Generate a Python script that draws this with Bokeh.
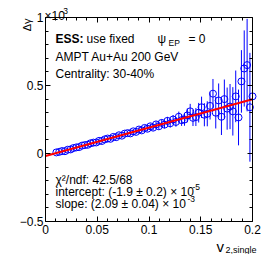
import math
from bokeh.plotting import figure
from bokeh.models import Range1d, FixedTicker, LinearAxis, Label
from bokeh.embed import file_html
from bokeh.resources import INLINE

# ---- data (delta gamma in units of 1e-3) ----
v2_single = [0.0105, 0.0133, 0.0160, 0.0188, 0.0215, 0.0243, 0.0270, 0.0298, 0.0325, 0.0353,
             0.0380, 0.0408, 0.0435, 0.0463, 0.0490, 0.0518, 0.0545, 0.0573, 0.0600, 0.0628,
             0.0655, 0.0683, 0.0710, 0.0738, 0.0765, 0.0793, 0.0820, 0.0848, 0.0875, 0.0903,
             0.0930, 0.0958, 0.0985, 0.1013, 0.1040, 0.1068, 0.1095, 0.1123, 0.1150, 0.1178,
             0.1205, 0.1233, 0.1260, 0.1288, 0.1315, 0.1343, 0.1370, 0.1398, 0.1425, 0.1453,
             0.1480, 0.1508, 0.1535, 0.1563, 0.1590, 0.1618, 0.1645, 0.1673, 0.1700, 0.1728,
             0.1755, 0.1783, 0.1810, 0.1838, 0.1865, 0.1893, 0.1920, 0.1948, 0.1975, 0.2000]
delta_gamma = [0.008, 0.012, 0.018, 0.017, 0.028, 0.030, 0.040, 0.045, 0.047, 0.058,
               0.062, 0.064, 0.075, 0.080, 0.081, 0.093, 0.092, 0.104, 0.110, 0.108,
               0.122, 0.120, 0.134, 0.131, 0.146, 0.150, 0.148, 0.163, 0.159, 0.176,
               0.170, 0.188, 0.182, 0.200, 0.190, 0.214, 0.200, 0.225, 0.212, 0.240,
               0.222, 0.250, 0.232, 0.270, 0.245, 0.250, 0.280, 0.310, 0.262, 0.268,
               0.300, 0.340, 0.285, 0.292, 0.350, 0.440, 0.300, 0.390, 0.270, 0.400,
               0.330, 0.345, 0.310, 0.420, 0.265, 0.530, 0.625, 0.650, 0.340, 0.420]
delta_gamma_err = [0.004, 0.004, 0.004, 0.005, 0.005, 0.005, 0.005, 0.006, 0.006, 0.006,
                   0.006, 0.007, 0.007, 0.007, 0.008, 0.008, 0.008, 0.009, 0.009, 0.010,
                   0.010, 0.011, 0.011, 0.012, 0.012, 0.013, 0.014, 0.014, 0.015, 0.016,
                   0.017, 0.018, 0.019, 0.020, 0.021, 0.022, 0.024, 0.025, 0.027, 0.029,
                   0.031, 0.033, 0.035, 0.038, 0.042, 0.046, 0.050, 0.055, 0.060, 0.066,
                   0.072, 0.078, 0.085, 0.092, 0.100, 0.108, 0.116, 0.125, 0.134, 0.144,
                   0.155, 0.166, 0.178, 0.190, 0.205, 0.230, 0.280, 0.340, 0.400, 0.450]
fit_intercept = -0.019   # -1.9e-5 in units of 1e-3
fit_slope = 2.09         # 2.09e-3 in units of 1e-3
fit_x = [0.0, 0.2]

x_bounds = (0.0, 0.2)
y_bounds = (-0.5, 1.0)
x_ticks = [0.0, 0.05, 0.1, 0.15, 0.2]
x_tick_labels = ["0", "0.05", "0.1", "0.15", "0.2"]
x_minor = [0.01, 0.02, 0.03, 0.04, 0.06, 0.07, 0.08, 0.09, 0.11, 0.12, 0.13, 0.14,
           0.16, 0.17, 0.18, 0.19]
y_ticks = [-0.5, 0.0, 0.5, 1.0]
y_tick_labels = ["\u22120.5", "0", "0.5", "1"]
y_minor = [-0.4, -0.3, -0.2, -0.1, 0.1, 0.2, 0.3, 0.4, 0.6, 0.7, 0.8, 0.9]

FONT = "Liberation Sans"
W, H = 262, 254
# plot box in canvas pixels
BOX_L, BOX_R, BOX_T, BOX_B = 45, 252, 17, 221

sx = (x_bounds[1] - x_bounds[0]) / (BOX_R - BOX_L)
sy = (y_bounds[1] - y_bounds[0]) / (BOX_B - BOX_T)
x_range = Range1d(x_bounds[0] - BOX_L * sx, x_bounds[1] + (W - BOX_R) * sx)
y_range = Range1d(y_bounds[0] - (H - BOX_B) * sy, y_bounds[1] + BOX_T * sy)

p = figure(width=W, height=H, output_backend="svg", toolbar_location=None,
           x_range=x_range, y_range=y_range,
           x_axis_location=None, y_axis_location=None,
           min_border_left=0, min_border_right=0, min_border_top=0, min_border_bottom=0)
p.grid.visible = False
p.outline_line_color = None
p.background_fill_color = "white"
p.border_fill_color = "white"

xt = FixedTicker(ticks=x_ticks, minor_ticks=x_minor)
yt = FixedTicker(ticks=y_ticks, minor_ticks=y_minor)


def make_axis(ticker, bounds, loc, labels, standoff):
    ax = LinearAxis(ticker=ticker, bounds=bounds, fixed_location=loc)
    ax.major_tick_out = 0
    ax.major_tick_in = 5
    ax.minor_tick_out = 0
    ax.minor_tick_in = 3
    ax.axis_line_color = "black"
    ax.major_tick_line_color = "black"
    ax.minor_tick_line_color = "black"
    ax.major_label_text_font = FONT
    ax.major_label_text_font_size = "12px"
    ax.major_label_text_color = "black"
    ax.major_label_standoff = standoff
    ax.major_label_overrides = labels
    return ax


p.add_layout(make_axis(xt, x_bounds, y_bounds[0],
                       {t: l for t, l in zip(x_ticks, x_tick_labels)}, 3), "below")
p.add_layout(make_axis(yt, y_bounds, x_bounds[0],
                       {t: l for t, l in zip(y_ticks, y_tick_labels)}, 2), "left")
p.add_layout(make_axis(xt, x_bounds, y_bounds[1], {t: "" for t in x_ticks}, 0), "above")
p.add_layout(make_axis(yt, y_bounds, x_bounds[1], {t: "" for t in y_ticks}, 0), "right")

# ---- data ----
lower = [y - e for y, e in zip(delta_gamma, delta_gamma_err)]
upper = [y + e for y, e in zip(delta_gamma, delta_gamma_err)]
p.segment(x0=v2_single, y0=lower, x1=v2_single, y1=upper, line_color="#0000ff", line_width=1)
p.scatter(v2_single, delta_gamma, marker="circle", size=7, fill_color=None,
          line_color="#0000ff", line_width=1)
fit_y = [fit_intercept + fit_slope * x for x in fit_x]
p.line(fit_x, fit_y, line_color="#ff0000", line_width=2)


# ---- text (positions given in canvas pixels) ----
def dx(px):
    return x_bounds[0] + (px - BOX_L) * sx


def dy(py):
    return y_bounds[1] - (py - BOX_T) * sy


def lab(text, px, py, size="12px", style="normal", align="left", angle=0.0):
    p.add_layout(Label(x=dx(px), y=dy(py), text=text, text_font=FONT, text_font_size=size,
                       text_font_style=style, text_align=align, text_baseline="alphabetic",
                       text_color="black", angle=angle))


lab("ESS:", 55, 38, style="bold")
lab("use fixed", 86, 38)
lab("\u03c8", 157, 38)
lab("EP", 168, 42, size="8.5px")
lab("= 0", 188, 38)
lab("AMPT Au+Au 200 GeV", 55, 56)
lab("Centrality: 30-40%", 55, 73)

lab("\u03c7\u00b2/ndf: 42.5/68", 55, 179)
lab("intercept: (-1.9 \u00b1 0.2) \u00d7 10", 55, 191)
lab("-5", 192, 186, size="8.5px")
lab("slope: (2.09 \u00b1 0.04) \u00d7 10", 55, 203)
lab("-3", 187, 198, size="8.5px")

lab("\u00d710", 44, 15)
lab("-3", 60, 10, size="8.5px")
lab("\u0394\u03b3", 26, 18, size="11px", align="right", angle=math.pi / 2)
lab("v", 216, 246, size="15px")
lab("2,single", 225, 249, size="9px")

open("out.html", "w").write(file_html(p, INLINE))
